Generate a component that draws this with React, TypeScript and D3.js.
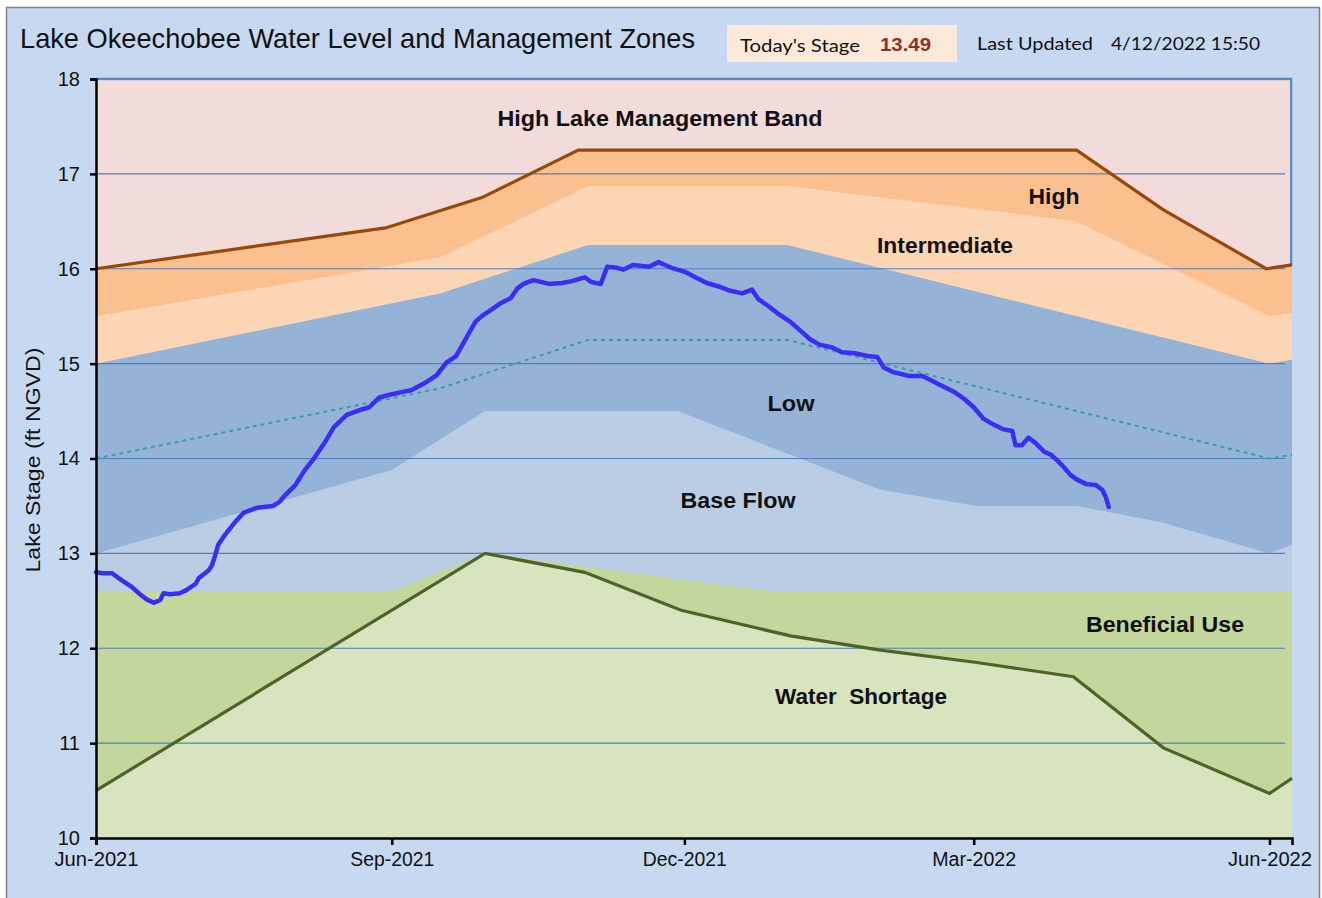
import React, { useRef, useEffect } from 'react';
import * as d3 from 'd3';

// Management zone boundaries (ft NGVD)
const hlmbDates = ['2021-06-01', '2021-08-30', '2021-09-29', '2021-10-29', '2022-04-02', '2022-04-29', '2022-05-31', '2022-06-08'];
const hlmbValues = [16.0, 16.43, 16.75, 17.25, 17.25, 16.62, 16.0, 16.04];

const highDates = ['2021-06-01', '2021-09-16', '2021-11-01', '2022-01-03', '2022-04-02', '2022-06-01', '2022-06-08'];
const highValues = [15.5, 16.12, 16.87, 16.87, 16.5, 15.5, 15.53];

const intermediateDates = ['2021-06-01', '2021-09-16', '2021-11-01', '2022-01-02', '2022-06-01', '2022-06-08'];
const intermediateValues = [15.0, 15.74, 16.25, 16.25, 15.0, 15.04];

const lowDates = ['2021-06-01', '2021-09-01', '2021-09-30', '2021-11-29', '2022-01-31', '2022-03-02', '2022-04-02', '2022-04-28', '2022-06-01', '2022-06-08'];
const lowValues = [13.0, 13.88, 14.5, 14.5, 13.67, 13.5, 13.5, 13.33, 13.0, 13.09];

const baseFlowDates = ['2021-06-01', '2021-09-01', '2021-09-30', '2021-12-28', '2022-06-08'];
const baseFlowValues = [12.6, 12.6, 13.0, 12.6, 12.6];

const shortageDates = ['2021-06-01', '2021-09-30', '2021-10-31', '2021-11-30', '2022-01-03', '2022-01-31', '2022-03-02', '2022-04-01', '2022-04-29', '2022-06-01', '2022-06-08'];
const shortageValues = [10.5, 13.0, 12.8, 12.4, 12.13, 11.98, 11.85, 11.7, 10.95, 10.47, 10.63];

const midLowDates = ['2021-06-01', '2021-09-16', '2021-11-01', '2022-01-02', '2022-06-01', '2022-06-08'];
const midLowValues = [14.0, 14.74, 15.25, 15.25, 14.0, 14.04];

// Lake stage
const stageDates = [
  '2021-06-01', '2021-06-03', '2021-06-06', '2021-06-08', '2021-06-12', '2021-06-15', '2021-06-17', '2021-06-19',
  '2021-06-21', '2021-06-22', '2021-06-24', '2021-06-27', '2021-06-29', '2021-07-02', '2021-07-03', '2021-07-06',
  '2021-07-07', '2021-07-08', '2021-07-09', '2021-07-11', '2021-07-14', '2021-07-17', '2021-07-21', '2021-07-26',
  '2021-07-28', '2021-07-30', '2021-08-02', '2021-08-05', '2021-08-08', '2021-08-11', '2021-08-14', '2021-08-18',
  '2021-08-22', '2021-08-25', '2021-08-28', '2021-08-31', '2021-09-04', '2021-09-07', '2021-09-11', '2021-09-15',
  '2021-09-18', '2021-09-21', '2021-09-23', '2021-09-25', '2021-09-27', '2021-09-29', '2021-10-02', '2021-10-05',
  '2021-10-08', '2021-10-10', '2021-10-12', '2021-10-15', '2021-10-20', '2021-10-24', '2021-10-27', '2021-10-31',
  '2021-11-02', '2021-11-05', '2021-11-06', '2021-11-07', '2021-11-10', '2021-11-12', '2021-11-15', '2021-11-20',
  '2021-11-23', '2021-11-25', '2021-11-27', '2021-12-01', '2021-12-05', '2021-12-08', '2021-12-12', '2021-12-15',
  '2021-12-19', '2021-12-22', '2021-12-24', '2021-12-27', '2021-12-30', '2022-01-03', '2022-01-06', '2022-01-09',
  '2022-01-12', '2022-01-16', '2022-01-19', '2022-01-23', '2022-01-27', '2022-01-30', '2022-02-01', '2022-02-04',
  '2022-02-09', '2022-02-13', '2022-02-16', '2022-02-20', '2022-02-23', '2022-02-26', '2022-03-01', '2022-03-04',
  '2022-03-07', '2022-03-10', '2022-03-13', '2022-03-14', '2022-03-16', '2022-03-18', '2022-03-20', '2022-03-23',
  '2022-03-25', '2022-03-27', '2022-03-29', '2022-03-31', '2022-04-02', '2022-04-05', '2022-04-08', '2022-04-10',
  '2022-04-11', '2022-04-12'
];
const stageValues = [
  12.80, 12.79, 12.79, 12.74, 12.65, 12.56, 12.51, 12.48,
  12.51, 12.58, 12.57, 12.58, 12.61, 12.68, 12.74, 12.82,
  12.87, 12.97, 13.09, 13.19, 13.32, 13.43, 13.48, 13.50,
  13.54, 13.62, 13.72, 13.88, 14.01, 14.16, 14.33, 14.46,
  14.51, 14.54, 14.64, 14.67, 14.70, 14.72, 14.79, 14.88,
  15.01, 15.08, 15.20, 15.32, 15.44, 15.50, 15.57, 15.64,
  15.69, 15.79, 15.84, 15.88, 15.84, 15.85, 15.87, 15.91,
  15.86, 15.84, 15.93, 16.02, 16.01, 15.99, 16.04, 16.02,
  16.07, 16.04, 16.01, 15.97, 15.90, 15.85, 15.81, 15.77,
  15.74, 15.78, 15.68, 15.61, 15.53, 15.44, 15.35, 15.26,
  15.20, 15.17, 15.12, 15.11, 15.08, 15.07, 14.96, 14.91,
  14.87, 14.87, 14.82, 14.75, 14.70, 14.63, 14.54, 14.42,
  14.36, 14.31, 14.29, 14.14, 14.14, 14.22, 14.17, 14.07,
  14.04, 13.98, 13.91, 13.83, 13.78, 13.73, 13.72, 13.67,
  13.60, 13.49
];

const xTickDates = ['2021-06-01', '2021-09-01', '2021-12-01', '2022-03-01', '2022-06-01'];
const yTicks = [10, 11, 12, 13, 14, 15, 16, 17, 18];

const todaysStage = '13.49';
const lastUpdated = '4/12/2022 15:50';

const FONT = '"Liberation Sans", Arial, sans-serif';
const FONT2 = 'Lato, "Open Sans", sans-serif';

export default function App() {
  const svgRef = useRef<SVGSVGElement>(null);

  useEffect(() => {
    document.body.style.margin = '0';
    if (!svgRef.current) return;
    const svg = d3.select(svgRef.current);
    svg.selectAll('*').remove();

    const parse = d3.utcParse('%Y-%m-%d');
    const x = d3.scaleUtc()
      .domain([parse('2021-06-01')!, parse('2022-06-08')!])
      .range([96, 1292]);
    const y = d3.scaleLinear().domain([10, 18]).range([838, 79]);

    const toPts = (ds: string[], vs: number[]) => ds.map((d, i) => ({ date: parse(d)!, value: vs[i] }));

    // outer panel
    svg.append('rect').attr('width', 1322).attr('height', 898).attr('fill', '#ffffff');
    svg.append('rect')
      .attr('x', 6.5).attr('y', 7.5).attr('width', 1313).attr('height', 900)
      .attr('fill', '#c6d9f1').attr('stroke', '#7f7f7f').attr('stroke-width', 1.5);

    // plot border (top + right)
    svg.append('path')
      .attr('d', `M96,${y(18)}H1291V${y(16.04)}`)
      .attr('fill', 'none').attr('stroke', '#5b87c4').attr('stroke-width', 2.5);

    const area = d3.area<{ date: Date; value: number }>()
      .x(d => x(d.date)).y0(y(10)).y1(d => y(d.value));
    const line = d3.line<{ date: Date; value: number }>()
      .x(d => x(d.date)).y(d => y(d.value));

    // High Lake Management Band backdrop
    svg.append('rect')
      .attr('x', 96).attr('y', y(18) + 1.5).attr('width', 1290 - 96).attr('height', y(10) - y(18) - 1.5)
      .attr('fill', '#f2dcdb');

    const zones = [
      { dates: hlmbDates, values: hlmbValues, color: '#fac090' },
      { dates: highDates, values: highValues, color: '#fcd5b4' },
      { dates: intermediateDates, values: intermediateValues, color: '#95b3d7' },
      { dates: lowDates, values: lowValues, color: '#b9cde5' },
      { dates: baseFlowDates, values: baseFlowValues, color: '#c3d69b' },
      { dates: shortageDates, values: shortageValues, color: '#d7e4bd' },
    ];
    zones.forEach(z => {
      svg.append('path').attr('d', area(toPts(z.dates, z.values))!).attr('fill', z.color);
    });

    // gridlines
    svg.append('g').selectAll('line')
      .data(yTicks.filter(t => t > 10 && t < 18))
      .join('line')
      .attr('x1', 96).attr('x2', 1285)
      .attr('y1', d => y(d)).attr('y2', d => y(d))
      .attr('stroke', '#4f81bd').attr('stroke-width', 1.2);

    // dotted mid-low line
    svg.append('path').attr('d', line(toPts(midLowDates, midLowValues))!)
      .attr('fill', 'none').attr('stroke', '#3b9ca8').attr('stroke-width', 2)
      .attr('stroke-dasharray', '4,4');

    // boundary lines
    svg.append('path').attr('d', line(toPts(hlmbDates, hlmbValues))!)
      .attr('fill', 'none').attr('stroke', '#984807').attr('stroke-width', 3.2);
    svg.append('path').attr('d', line(toPts(shortageDates, shortageValues))!)
      .attr('fill', 'none').attr('stroke', '#4f6228').attr('stroke-width', 3.2);

    // lake stage
    svg.append('path').attr('d', line(toPts(stageDates, stageValues))!)
      .attr('fill', 'none').attr('stroke', '#3a2ef5').attr('stroke-width', 4.5)
      .attr('stroke-linejoin', 'round').attr('stroke-linecap', 'round');

    // zone labels
    const labels = [
      { t: 'High Lake Management Band', x: 660, y: 126, w: 325 },
      { t: 'High', x: 1054, y: 204, w: 51 },
      { t: 'Intermediate', x: 945, y: 253, w: 136 },
      { t: 'Low', x: 791, y: 411, w: 47 },
      { t: 'Base Flow', x: 738, y: 508, w: 115 },
      { t: 'Beneficial Use', x: 1165, y: 632, w: 158 },
      { t: 'Water  Shortage', x: 861, y: 704, w: 172 },
    ];
    svg.append('g').selectAll('text').data(labels).join('text')
      .attr('x', d => d.x).attr('y', d => d.y)
      .attr('text-anchor', 'middle')
      .attr('font-family', FONT).attr('font-weight', 'bold').attr('font-size', 22)
      .attr('textLength', d => d.w).attr('lengthAdjust', 'spacingAndGlyphs')
      .attr('fill', '#111')
      .style('white-space', 'pre')
      .text(d => d.t);

    // axes
    const yAxis = d3.axisLeft(y).tickValues(yTicks).tickSize(6).tickPadding(10).tickFormat(d3.format('d'));
    const gy = svg.append('g').attr('transform', 'translate(96,0)').call(yAxis);
    gy.select('.domain').attr('stroke', '#000').attr('stroke-width', 2.5);
    gy.selectAll('.tick line').attr('stroke', '#000').attr('stroke-width', 2.5);
    gy.selectAll('.tick text').attr('font-family', FONT).attr('font-size', 20).attr('fill', '#111');

    const xAxis = d3.axisBottom(x)
      .tickValues(xTickDates.map(d => parse(d)!))
      .tickSize(7).tickPadding(7)
      .tickFormat(d => d3.utcFormat('%b-%Y')(d as Date));
    const gx = svg.append('g').attr('transform', `translate(0,${y(10)})`).call(xAxis);
    gx.select('.domain').attr('stroke', '#000').attr('stroke-width', 2.5);
    gx.selectAll('.tick line').attr('stroke', '#000').attr('stroke-width', 2.5);
    gx.selectAll('.tick text').attr('font-family', FONT).attr('font-size', 20).attr('fill', '#111')
      .attr('textLength', 84).attr('lengthAdjust', 'spacingAndGlyphs');

    // y axis title
    svg.append('text')
      .attr('transform', 'translate(40,460) rotate(-90)')
      .attr('text-anchor', 'middle')
      .attr('font-family', FONT).attr('font-size', 21).attr('fill', '#111')
      .attr('textLength', 225).attr('lengthAdjust', 'spacingAndGlyphs')
      .text('Lake Stage (ft NGVD)');

    // title
    svg.append('text')
      .attr('x', 20).attr('y', 48)
      .attr('font-family', FONT).attr('font-size', 28).attr('fill', '#111')
      .attr('textLength', 675).attr('lengthAdjust', 'spacingAndGlyphs')
      .text('Lake Okeechobee Water Level and Management Zones');

    // today's stage box
    svg.append('rect').attr('x', 727).attr('y', 25).attr('width', 230).attr('height', 37).attr('fill', '#fde9d9');
    svg.append('text').attr('x', 740).attr('y', 52)
      .attr('font-family', FONT2).attr('font-size', 18).attr('fill', '#111')
      .attr('textLength', 120).attr('lengthAdjust', 'spacingAndGlyphs')
      .text("Today's Stage");
    svg.append('text').attr('x', 880).attr('y', 51)
      .attr('font-family', FONT).attr('font-weight', 'bold').attr('font-size', 19).attr('fill', '#8e2f2f')
      .attr('textLength', 51).attr('lengthAdjust', 'spacingAndGlyphs')
      .text(todaysStage);
    svg.append('text').attr('x', 977).attr('y', 50)
      .attr('font-family', FONT2).attr('font-size', 18).attr('fill', '#111')
      .attr('textLength', 116).attr('lengthAdjust', 'spacingAndGlyphs')
      .text('Last Updated');
    svg.append('text').attr('x', 1111).attr('y', 50)
      .attr('font-family', FONT2).attr('font-size', 18).attr('fill', '#111')
      .attr('textLength', 149).attr('lengthAdjust', 'spacingAndGlyphs')
      .text(lastUpdated);
  }, []);

  return <svg ref={svgRef} width={1322} height={898} style={{ display: 'block' }} />;
}
